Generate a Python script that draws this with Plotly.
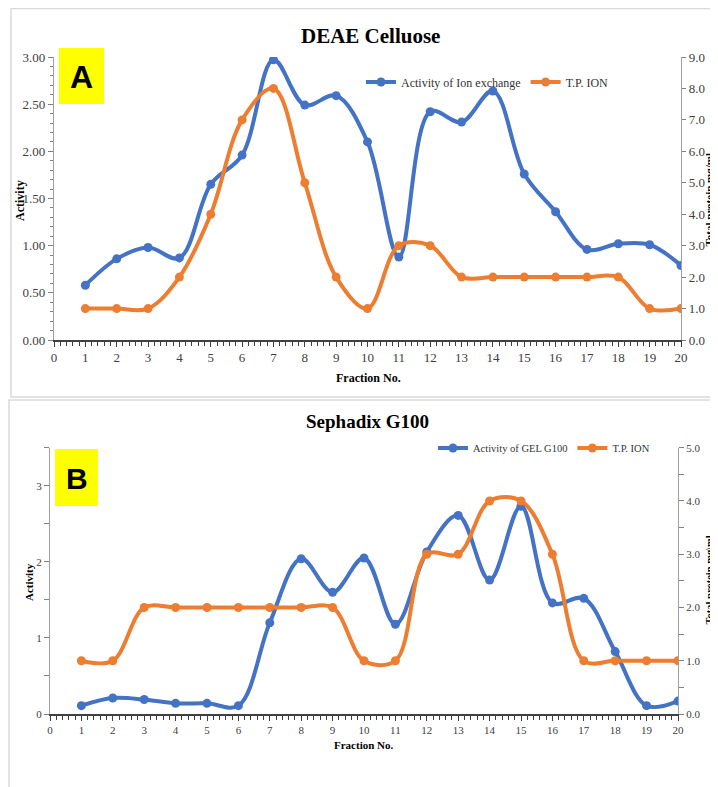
import plotly.graph_objects as go

fractions = list(range(1, 21))
x_ticks = list(range(0, 21))

# Panel A - DEAE Celluose
activity_ion = [0.58, 0.86, 0.98, 0.87, 1.65, 1.96, 2.97, 2.49, 2.59, 2.10,
                0.88, 2.42, 2.31, 2.64, 1.76, 1.36, 0.96, 1.02, 1.01, 0.79]
tp_ion_a = [1.0, 1.0, 1.0, 2.0, 4.0, 7.0, 8.0, 5.0, 2.0, 1.0,
            3.0, 3.0, 2.0, 2.0, 2.0, 2.0, 2.0, 2.0, 1.0, 1.0]

# Panel B - Sephadix G100
activity_gel = [0.11, 0.21, 0.19, 0.14, 0.14, 0.11, 1.20, 2.04, 1.60, 2.05,
                1.18, 2.13, 2.61, 1.76, 2.73, 1.46, 1.52, 0.82, 0.11, 0.17]
tp_ion_b = [1.0, 1.0, 2.0, 2.0, 2.0, 2.0, 2.0, 2.0, 2.0, 1.0,
            1.0, 3.0, 3.0, 4.0, 4.0, 3.0, 1.0, 1.0, 1.0, 1.0]

BLUE = "#4472C4"
ORANGE = "#ED7D31"
SERIF = "Liberation Serif"
OFF = 8  # page body margin
W, H = 718 - OFF, 787 - OFF


def px(x):
    return (x - OFF) / W


def py(y):
    return 1 - (y - OFF) / H


fig = go.Figure()


def series(x, y, name, color, xa, ya, leg):
    return go.Scatter(x=x, y=y, name=name, xaxis=xa, yaxis=ya, legend=leg,
                      mode="lines+markers",
                      line=dict(shape="spline", smoothing=1.0, width=4, color=color),
                      marker=dict(color=color, size=9))


fig.add_trace(series(fractions, activity_ion, "Activity of Ion exchange", BLUE, "x", "y", "legend"))
fig.add_trace(series(fractions, tp_ion_a, "T.P. ION", ORANGE, "x", "y2", "legend"))
fig.add_trace(series(fractions, activity_gel, "Activity of GEL G100", BLUE, "x2", "y3", "legend2"))
fig.add_trace(series(fractions, tp_ion_b, "T.P. ION", ORANGE, "x2", "y4", "legend2"))

tickfont_a = dict(family=SERIF, size=13, color="#404040")
tickfont_b = dict(family=SERIF, size=11, color="#404040")

common_x = dict(range=[0, 20], tickmode="array", tickvals=x_ticks, ticks="outside", ticklen=5,
                tickcolor="#404040", showline=True, linecolor="#404040", linewidth=1.5,
                showgrid=False, zeroline=False, automargin=False,
                minor=dict(ticks="outside", dtick=0.2, tick0=0, ticklen=4, tickcolor="#404040"))

fig.update_layout(
    width=W, height=H,
    autosize=False,
    margin=dict(l=0, r=0, t=0, b=0, pad=0),
    paper_bgcolor="white", plot_bgcolor="rgba(0,0,0,0)",
    xaxis=dict(common_x, domain=[px(54), px(681)], anchor="y", tickfont=tickfont_a),
    yaxis=dict(domain=[py(340), py(57)], anchor="x", range=[0, 3], dtick=0.5, tick0=0,
               tickformat=".2f", ticks="outside", ticklen=5, tickcolor="#808080",
               showline=True, linecolor="#a0a0a0", linewidth=1.2, showgrid=False, zeroline=False,
               tickfont=tickfont_a, automargin=False,
               minor=dict(ticks="outside", dtick=0.1, tick0=0, ticklen=3, tickcolor="#808080")),
    yaxis2=dict(overlaying="y", side="right", anchor="x", range=[0, 9], dtick=1, tick0=0,
                tickformat=".1f", ticks="outside", ticklen=4, tickcolor="#808080",
                showline=True, linecolor="#a0a0a0", linewidth=1.2, showgrid=False, zeroline=False,
                tickfont=tickfont_a, automargin=False),
    xaxis2=dict(common_x, domain=[px(50), px(678)], anchor="y3", tickfont=tickfont_b),
    yaxis3=dict(domain=[py(714), py(447.7)], anchor="x2", range=[0, 3.5], dtick=1, tick0=0,
                ticks="outside", ticklen=5, tickcolor="#808080",
                showline=True, linecolor="#a0a0a0", linewidth=1.2, showgrid=False, zeroline=False,
                tickfont=tickfont_b, automargin=False,
                minor=dict(ticks="outside", dtick=0.5, tick0=0, ticklen=5, tickcolor="#808080")),
    yaxis4=dict(overlaying="y3", side="right", anchor="x2", range=[0, 5], dtick=1, tick0=0,
                tickformat=".1f", ticks="outside", ticklen=5, tickcolor="#808080",
                showline=True, linecolor="#a0a0a0", linewidth=1.2, showgrid=False, zeroline=False,
                tickfont=tickfont_b, automargin=False,
                minor=dict(ticks="outside", dtick=0.5, tick0=0, ticklen=5, tickcolor="#808080")),
    legend=dict(orientation="h", x=px(361), y=py(82), xanchor="left", yanchor="middle",
                font=dict(family=SERIF, size=12, color="#333333"), bgcolor="rgba(0,0,0,0)",
                itemwidth=30, tracegroupgap=0),
    legend2=dict(orientation="h", x=px(433), y=py(448), xanchor="left", yanchor="middle",
                 font=dict(family=SERIF, size=10.5, color="#333333"), bgcolor="rgba(0,0,0,0)",
                 itemwidth=30, tracegroupgap=0),
)

shapes = [
    dict(type="rect", xref="paper", yref="paper", x0=px(11), x1=px(712), y0=py(397), y1=py(8.5),
         line=dict(color="#d9d9d9", width=1.5), fillcolor="rgba(0,0,0,0)", layer="below"),
    dict(type="rect", xref="paper", yref="paper", x0=px(9), x1=px(722), y0=py(792), y1=py(400),
         line=dict(color="#d9d9d9", width=1.5), fillcolor="rgba(0,0,0,0)", layer="below"),
    dict(type="rect", xref="paper", yref="paper", x0=px(59), x1=px(104), y0=py(104), y1=py(48),
         line=dict(width=0), fillcolor="#FFFF00", layer="below"),
    dict(type="rect", xref="paper", yref="paper", x0=px(55), x1=px(98), y0=py(506), y1=py(449),
         line=dict(width=0), fillcolor="#FFFF00", layer="below"),
]
fig.update_layout(shapes=shapes)

ann = []


def add_text(text, x, y, size, family=SERIF, bold=True, angle=0, color="black"):
    t = f"<b>{text}</b>" if bold else text
    ann.append(dict(text=t, x=px(x), y=py(y), xref="paper", yref="paper", showarrow=False,
                    xanchor="center", yanchor="middle", textangle=angle,
                    font=dict(family=family, size=size, color=color)))


add_text("DEAE Celluose", 370, 36, 21)
add_text("Sephadix G100", 367, 422, 19)
add_text("A", 81, 77, 32, family="Liberation Sans")
add_text("B", 77, 478, 30, family="Liberation Sans")
add_text("Activity", 20, 200, 12, angle=-90)
add_text("Total protein mg/ml", 708.5, 200, 11, angle=-90)
add_text("Fraction No.", 368, 378, 12)
add_text("Activity", 29, 582, 11, angle=-90)
add_text("Total protein mg\\ml", 708.5, 580, 10.5, angle=-90)
add_text("Fraction No.", 364, 745, 11)
fig.update_layout(annotations=ann)

fig.write_html("out.html")
